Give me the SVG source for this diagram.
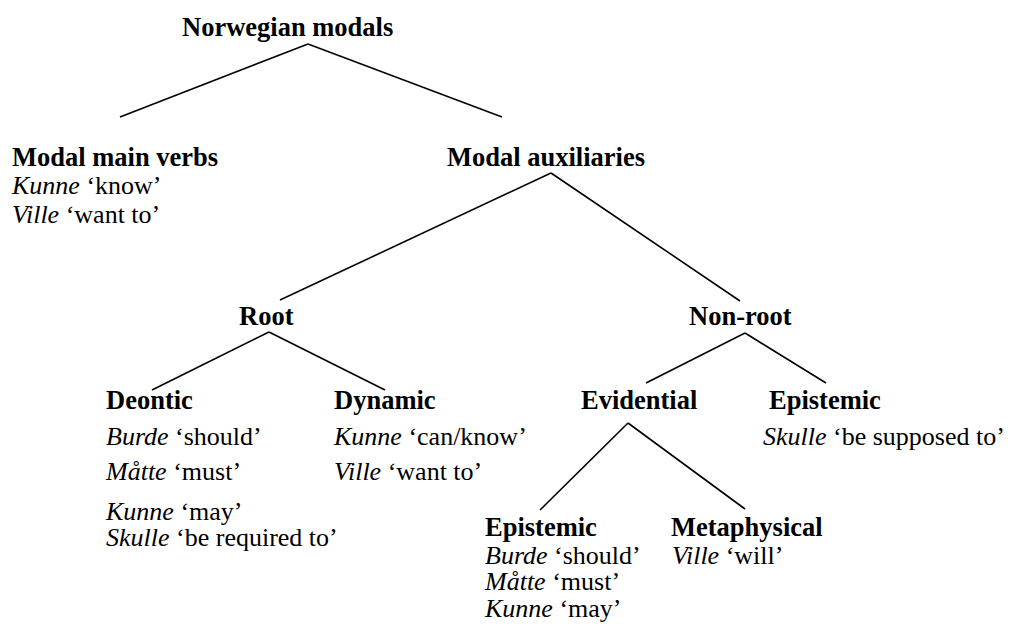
<svg xmlns="http://www.w3.org/2000/svg" width="1012" height="635" viewBox="0 0 1012 635">
<style>
text{font-family:"Liberation Serif","Times New Roman",serif;font-size:26px;fill:#000}
.h{font-weight:bold;font-size:26.5px}
.i{font-style:italic}
line{stroke:#000;stroke-width:1.6}
</style>
<rect width="1012" height="635" fill="#fff"/>
<g id="connectors">
<line x1="308" y1="44" x2="120" y2="117"/>
<line x1="308" y1="44" x2="502" y2="117"/>
<line x1="551" y1="173" x2="280" y2="300"/>
<line x1="551" y1="173" x2="740" y2="301"/>
<line x1="269" y1="332" x2="152" y2="390"/>
<line x1="269" y1="332" x2="385" y2="390"/>
<line x1="745" y1="333" x2="646" y2="383"/>
<line x1="745" y1="333" x2="826" y2="383"/>
<line x1="628" y1="423" x2="540" y2="510"/>
<line x1="628" y1="423" x2="745" y2="509"/>
</g>
<g id="norwegian-modals"><text class="h" x="182" y="36">Norwegian modals</text></g>
<g id="modal-main-verbs">
<text class="h" x="12" y="166">Modal main verbs</text>
<text x="12" y="194"><tspan class="i">Kunne</tspan> ‘know’</text>
<text x="12" y="223"><tspan class="i">Ville</tspan> ‘want to’</text>
</g>
<g id="modal-auxiliaries"><text class="h" x="447" y="166">Modal auxiliaries</text></g>
<g id="root"><text class="h" x="239" y="325">Root</text></g>
<g id="non-root"><text class="h" x="689" y="325">Non-root</text></g>
<g id="deontic">
<text class="h" x="106" y="409">Deontic</text>
<text x="106" y="445"><tspan class="i">Burde</tspan> ‘should’</text>
<text x="106" y="480"><tspan class="i">Måtte</tspan> ‘must’</text>
<text x="106" y="520"><tspan class="i">Kunne</tspan> ‘may’</text>
<text x="106" y="546"><tspan class="i">Skulle</tspan> ‘be required to’</text>
</g>
<g id="dynamic">
<text class="h" x="334" y="409">Dynamic</text>
<text x="334" y="445"><tspan class="i">Kunne</tspan> ‘can/know’</text>
<text x="334" y="480"><tspan class="i">Ville</tspan> ‘want to’</text>
</g>
<g id="evidential"><text class="h" x="581" y="409">Evidential</text></g>
<g id="epistemic-nonroot">
<text class="h" x="769" y="409">Epistemic</text>
<text x="763" y="445"><tspan class="i">Skulle</tspan> ‘be supposed to’</text>
</g>
<g id="epistemic-evidential">
<text class="h" x="485" y="536">Epistemic</text>
<text x="485" y="564"><tspan class="i">Burde</tspan> ‘should’</text>
<text x="485" y="590"><tspan class="i">Måtte</tspan> ‘must’</text>
<text x="485" y="617"><tspan class="i">Kunne</tspan> ‘may’</text>
</g>
<g id="metaphysical">
<text class="h" x="671" y="536">Metaphysical</text>
<text x="672" y="564"><tspan class="i">Ville</tspan> ‘will’</text>
</g>
</svg>
